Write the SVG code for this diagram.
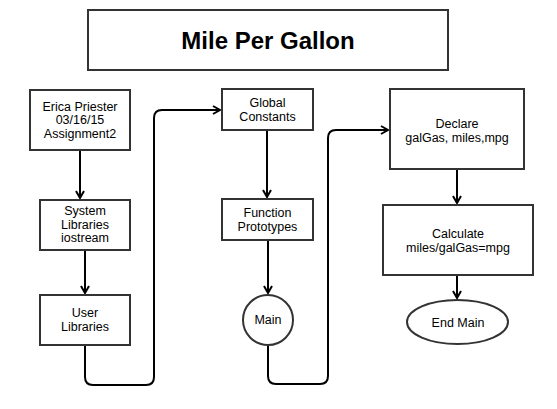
<svg xmlns="http://www.w3.org/2000/svg" width="557" height="409" viewBox="0 0 557 409">
<style>
.box{fill:#fff;stroke:#333;stroke-width:2}
.t{font-family:"Liberation Sans",Arial,sans-serif;font-size:12.5px;fill:#000;text-anchor:middle}
.title{font-family:"Liberation Sans",Arial,sans-serif;font-size:24px;font-weight:bold;fill:#000;text-anchor:middle}
.c{fill:none;stroke:#000;stroke-width:2}
</style>
<defs>
<marker id="ah" markerUnits="userSpaceOnUse" markerWidth="12" markerHeight="12" refX="9" refY="5" orient="auto">
<path d="M2,1 L9,5 L2,9" fill="none" stroke="#000" stroke-width="2"/>
</marker>
</defs>
<rect width="557" height="409" fill="#fff"/>
<g id="title"><rect class="box" x="88" y="10" width="360" height="60"/><text class="title" x="268" y="48.5">Mile Per Gallon</text></g>
<g id="connectors">
<path class="c" d="M80,150 V198" marker-end="url(#ah)"/>
<path class="c" d="M85,250 V293" marker-end="url(#ah)"/>
<path class="c" d="M85,345 V377 Q85,385 93,385 H146 Q154,385 154,377 V118 Q154,110 162,110 H220" marker-end="url(#ah)"/>
<path class="c" d="M267,130 V197" marker-end="url(#ah)"/>
<path class="c" d="M268,240 V293" marker-end="url(#ah)"/>
<path class="c" d="M268,345 V376 Q268,384 276,384 H320 Q328,384 328,376 V138 Q328,130 336,130 H388" marker-end="url(#ah)"/>
<path class="c" d="M457,169 V203" marker-end="url(#ah)"/>
<path class="c" d="M457,275 V298" marker-end="url(#ah)"/>
</g>
<g id="erica"><rect class="box" x="30" y="90" width="100" height="60"/><text class="t" x="80" y="110.5">Erica Priester</text><text class="t" x="80" y="124">03/16/15</text><text class="t" x="80" y="137.5">Assignment2</text></g>
<g id="syslib"><rect class="box" x="40" y="200" width="90" height="50"/><text class="t" x="85" y="215">System</text><text class="t" x="85" y="228.5">Libraries</text><text class="t" x="85" y="242">iostream</text></g>
<g id="userlib"><rect class="box" x="40" y="295" width="90" height="50"/><text class="t" x="85" y="317">User</text><text class="t" x="85" y="331">Libraries</text></g>
<g id="global"><rect class="box" x="222" y="89" width="91" height="41"/><text class="t" x="267.5" y="107">Global</text><text class="t" x="267.5" y="120.5">Constants</text></g>
<g id="proto"><rect class="box" x="222" y="199" width="91" height="41"/><text class="t" x="267.5" y="217">Function</text><text class="t" x="267.5" y="230.5">Prototypes</text></g>
<g id="main"><circle class="box" cx="268" cy="320" r="25"/><text class="t" x="268" y="324">Main</text></g>
<g id="declare"><rect class="box" x="390" y="89" width="134" height="80"/><text class="t" x="457" y="127.5">Declare</text><text class="t" x="457" y="141.5">galGas, miles,mpg</text></g>
<g id="calc"><rect class="box" x="383" y="205" width="150" height="70"/><text class="t" x="458" y="237.5">Calculate</text><text class="t" x="458" y="251.5">miles/galGas=mpg</text></g>
<g id="endmain"><ellipse class="box" cx="457.5" cy="322" rx="50.5" ry="22"/><text class="t" x="458" y="326.5">End Main</text></g>
</svg>
